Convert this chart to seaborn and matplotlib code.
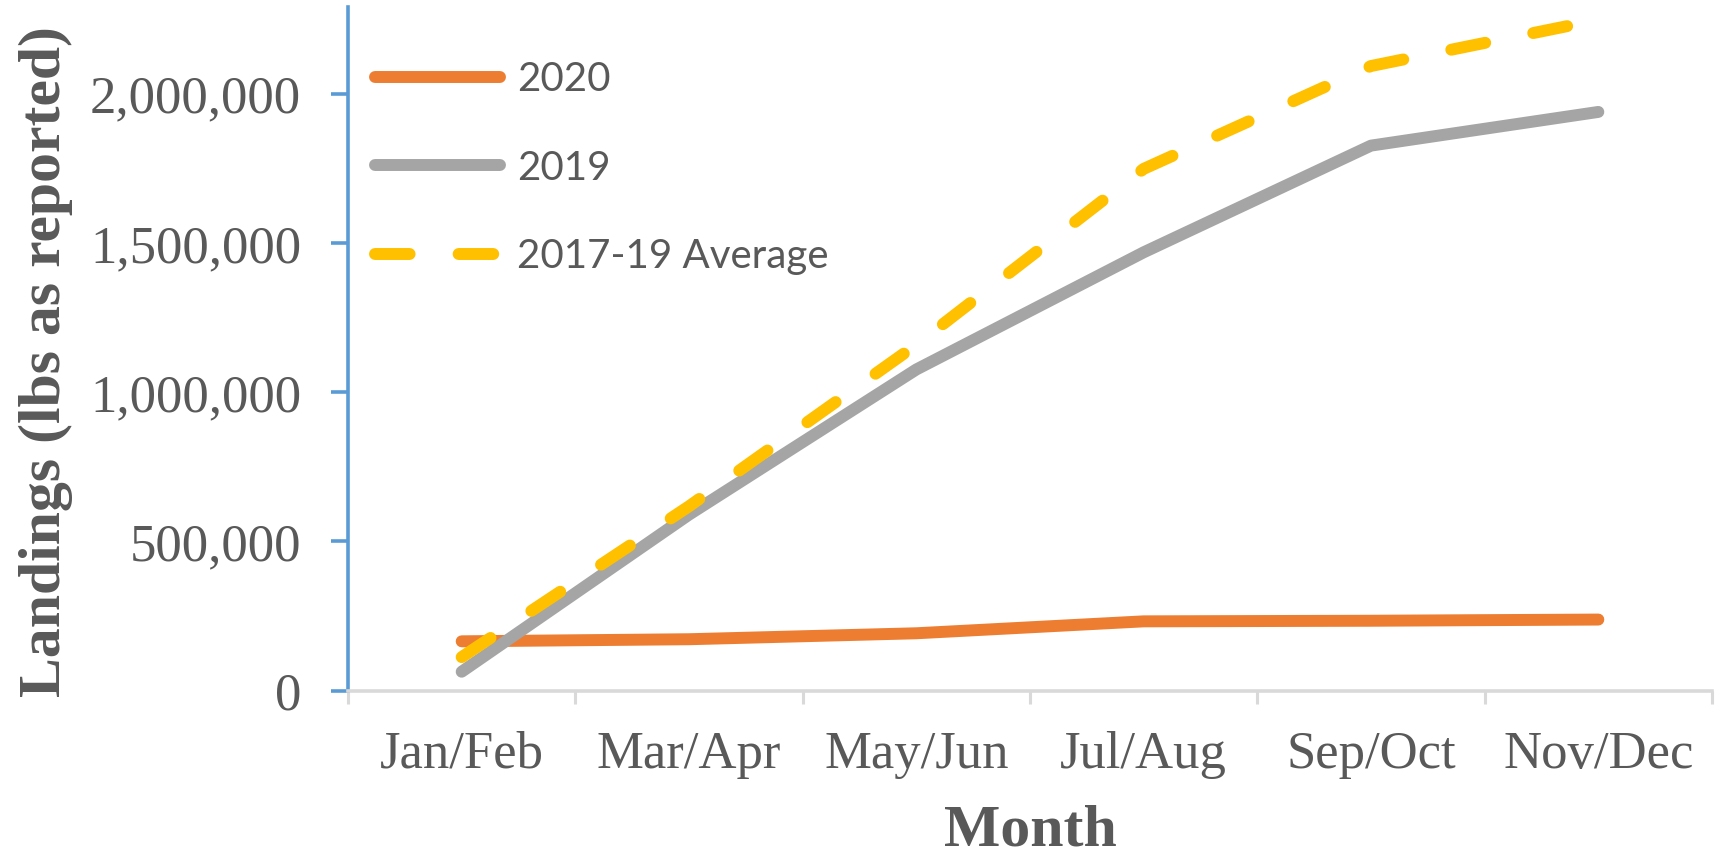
import matplotlib
matplotlib.use("Agg")
import matplotlib.pyplot as plt
import seaborn as sns
import numpy as np
import pandas as pd
from matplotlib.ticker import FixedLocator, FuncFormatter

# ---- data ----
months = ["Jan/Feb", "Mar/Apr", "May/Jun", "Jul/Aug", "Sep/Oct", "Nov/Dec"]
landings_2020 = [165000, 172000, 192000, 232000, 234000, 238000]
landings_2019 = [63000, 590000, 1077000, 1470000, 1828000, 1941000]
landings_avg = [112000, 618000, 1160000, 1750000, 2095000, 2250000]
series_names = ["2020", "2019", "2017-19 Average"]
y_ticks = [0, 500000, 1000000, 1500000, 2000000]

sns.set_theme(style="white")
plt.rcParams["font.family"] = ["Liberation Serif", "DejaVu Serif"]

W, H = 1719, 858
fig = plt.figure(figsize=(W / 100, H / 100), dpi=100)
ax_left, ax_right, ax_top, ax_bottom = 348, 1712, 7.3, 690.5
ax = fig.add_axes([ax_left / W, 1 - ax_bottom / H,
                   (ax_right - ax_left) / W, (ax_bottom - ax_top) / H])

x = np.arange(len(months))
colors = ["#ED7D31", "#A5A5A5", "#FFC000"]
values = [landings_2020, landings_2019, landings_avg]
lw = 8.6
for name, vals, col in zip(series_names, values, colors):
    kw = dict(solid_capstyle="round", dash_capstyle="round")
    if name == "2017-19 Average":
        kw["dashes"] = (2.9, 4.1)
    else:
        kw["dashes"] = ""
    sns.lineplot(x=x, y=vals, ax=ax, color=col, linewidth=lw, label=name,
                 sort=False, **kw)

ax.set_xlim(-0.5, len(months) - 0.5)
ax.set_ylim(0, 2292000)

text_gray = "#595959"
# x axis: labels at centres, ticks at boundaries
ax.xaxis.set_major_locator(FixedLocator(x))
ax.set_xticklabels(months)
ax.xaxis.set_minor_locator(FixedLocator(np.arange(-0.5, len(months), 1.0)))
ax.tick_params(axis="x", which="major", length=0, pad=29, labelsize=38,
               labelcolor=text_gray)
ax.tick_params(axis="x", which="minor", length=9.4, width=2.2,
               color="#D9D9D9", bottom=True)
# y axis
ax.yaxis.set_major_locator(FixedLocator(y_ticks))
ax.yaxis.set_major_formatter(FuncFormatter(lambda v, p: f"{int(v):,}"))
ax.tick_params(axis="y", which="major", length=12.2, width=2.6, pad=21.6,
               color="#5B9BD5", labelsize=38, labelcolor=text_gray, left=True)

for s in ["top", "right"]:
    ax.spines[s].set_visible(False)
ax.spines["left"].set_color("#5B9BD5")
ax.spines["left"].set_linewidth(2.6)
ax.spines["bottom"].set_color("#D9D9D9")
ax.spines["bottom"].set_linewidth(2.6)
ax.grid(False)

ax.set_xlabel("Month", fontsize=43, fontweight="bold", color=text_gray,
              va="baseline")
ax.xaxis.set_label_coords(0.5, (ax_bottom - 846) / (ax_bottom - ax_top))
ax.set_ylabel("Landings (lbs as reported)", fontsize=43, fontweight="bold",
              color=text_gray, va="center", ha="center")
ax.yaxis.set_label_coords((46 - ax_left) / (ax_right - ax_left),
                          (ax_bottom - 362) / (ax_bottom - ax_top))

leg = ax.legend(loc="upper left", bbox_to_anchor=(375 / W, 1 - 61 / H),
                bbox_transform=fig.transFigure, frameon=False, borderpad=0,
                borderaxespad=0, handlelength=3.1, handletextpad=0.42,
                labelspacing=1.28, prop={"family": ["Lato", "DejaVu Sans"],
                                          "size": 29},
                labelcolor=text_gray)
for h in leg.get_lines():
    h.set_solid_capstyle("round")
    h.set_dash_capstyle("round")

fig.savefig("out.png", dpi=100)
